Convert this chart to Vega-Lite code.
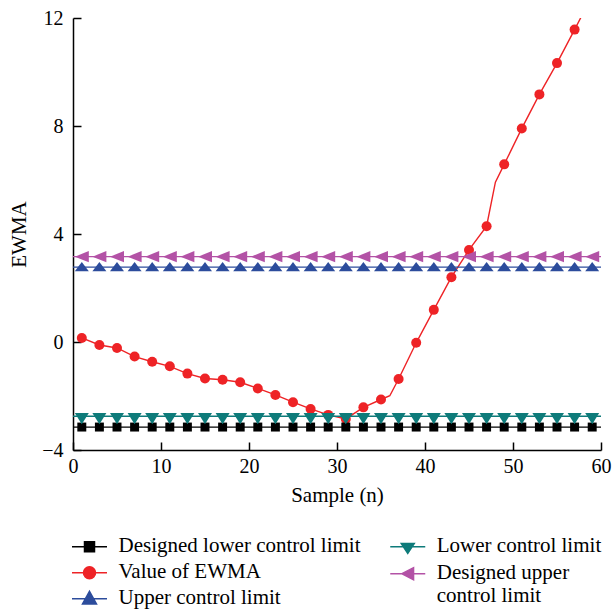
{
  "$schema": "https://vega.github.io/schema/vega-lite/v6.json",
  "width": 528,
  "height": 432,
  "autosize": "none",
  "padding": {"left": 73, "top": 18, "right": 12, "bottom": 159},
  "background": "white",
  "datasets": {
    "ewma": [
      {"n": 1, "ewma": 0.15}, {"n": 3, "ewma": -0.11}, {"n": 5, "ewma": -0.22}, {"n": 7, "ewma": -0.54},
      {"n": 9, "ewma": -0.73}, {"n": 11, "ewma": -0.90}, {"n": 13, "ewma": -1.17}, {"n": 15, "ewma": -1.35},
      {"n": 17, "ewma": -1.40}, {"n": 19, "ewma": -1.49}, {"n": 21, "ewma": -1.72}, {"n": 23, "ewma": -1.96},
      {"n": 25, "ewma": -2.23}, {"n": 27, "ewma": -2.48}, {"n": 29, "ewma": -2.70}, {"n": 31, "ewma": -2.85},
      {"n": 33, "ewma": -2.42}, {"n": 35, "ewma": -2.13}, {"n": 36, "ewma": -1.99}, {"n": 37, "ewma": -1.37},
      {"n": 39, "ewma": -0.03}, {"n": 41, "ewma": 1.19}, {"n": 43, "ewma": 2.40}, {"n": 45, "ewma": 3.41},
      {"n": 47, "ewma": 4.29}, {"n": 48, "ewma": 5.92}, {"n": 49, "ewma": 6.58}, {"n": 51, "ewma": 7.91},
      {"n": 53, "ewma": 9.17}, {"n": 55, "ewma": 10.33}, {"n": 57, "ewma": 11.57}, {"n": 58, "ewma": 12.2}
    ],
    "limits": [
      {"n": 1, "DLCL": -3.15, "LCL": -2.75, "UCL": 2.77, "DUCL": 3.16},
      {"n": 3, "DLCL": -3.15, "LCL": -2.75, "UCL": 2.77, "DUCL": 3.16},
      {"n": 5, "DLCL": -3.15, "LCL": -2.75, "UCL": 2.77, "DUCL": 3.16},
      {"n": 7, "DLCL": -3.15, "LCL": -2.75, "UCL": 2.77, "DUCL": 3.16},
      {"n": 9, "DLCL": -3.15, "LCL": -2.75, "UCL": 2.77, "DUCL": 3.16},
      {"n": 11, "DLCL": -3.15, "LCL": -2.75, "UCL": 2.77, "DUCL": 3.16},
      {"n": 13, "DLCL": -3.15, "LCL": -2.75, "UCL": 2.77, "DUCL": 3.16},
      {"n": 15, "DLCL": -3.15, "LCL": -2.75, "UCL": 2.77, "DUCL": 3.16},
      {"n": 17, "DLCL": -3.15, "LCL": -2.75, "UCL": 2.77, "DUCL": 3.16},
      {"n": 19, "DLCL": -3.15, "LCL": -2.75, "UCL": 2.77, "DUCL": 3.16},
      {"n": 21, "DLCL": -3.15, "LCL": -2.75, "UCL": 2.77, "DUCL": 3.16},
      {"n": 23, "DLCL": -3.15, "LCL": -2.75, "UCL": 2.77, "DUCL": 3.16},
      {"n": 25, "DLCL": -3.15, "LCL": -2.75, "UCL": 2.77, "DUCL": 3.16},
      {"n": 27, "DLCL": -3.15, "LCL": -2.75, "UCL": 2.77, "DUCL": 3.16},
      {"n": 29, "DLCL": -3.15, "LCL": -2.75, "UCL": 2.77, "DUCL": 3.16},
      {"n": 31, "DLCL": -3.15, "LCL": -2.75, "UCL": 2.77, "DUCL": 3.16},
      {"n": 33, "DLCL": -3.15, "LCL": -2.75, "UCL": 2.77, "DUCL": 3.16},
      {"n": 35, "DLCL": -3.15, "LCL": -2.75, "UCL": 2.77, "DUCL": 3.16},
      {"n": 37, "DLCL": -3.15, "LCL": -2.75, "UCL": 2.77, "DUCL": 3.16},
      {"n": 39, "DLCL": -3.15, "LCL": -2.75, "UCL": 2.77, "DUCL": 3.16},
      {"n": 41, "DLCL": -3.15, "LCL": -2.75, "UCL": 2.77, "DUCL": 3.16},
      {"n": 43, "DLCL": -3.15, "LCL": -2.75, "UCL": 2.77, "DUCL": 3.16},
      {"n": 45, "DLCL": -3.15, "LCL": -2.75, "UCL": 2.77, "DUCL": 3.16},
      {"n": 47, "DLCL": -3.15, "LCL": -2.75, "UCL": 2.77, "DUCL": 3.16},
      {"n": 49, "DLCL": -3.15, "LCL": -2.75, "UCL": 2.77, "DUCL": 3.16},
      {"n": 51, "DLCL": -3.15, "LCL": -2.75, "UCL": 2.77, "DUCL": 3.16},
      {"n": 53, "DLCL": -3.15, "LCL": -2.75, "UCL": 2.77, "DUCL": 3.16},
      {"n": 55, "DLCL": -3.15, "LCL": -2.75, "UCL": 2.77, "DUCL": 3.16},
      {"n": 57, "DLCL": -3.15, "LCL": -2.75, "UCL": 2.77, "DUCL": 3.16},
      {"n": 59, "DLCL": -3.15, "LCL": -2.75, "UCL": 2.77, "DUCL": 3.16}
    ],
    "levels": [
      {"key": "DLCL", "level": -3.15},
      {"key": "LCL", "level": -2.75},
      {"key": "UCL", "level": 2.77},
      {"key": "DUCL", "level": 3.16}
    ]
  },
  "layer": [
    {
      "data": {"name": "ewma"},
      "mark": {"type": "line", "color": "#ee2326", "strokeWidth": 1.4, "clip": true},
      "encoding": {
        "x": {"field": "n", "type": "quantitative", "scale": {"domain": [0, 60], "nice": false},
              "axis": {"values": [0, 10, 20, 30, 40, 50, 60], "title": "Sample (n)", "labelFlush": false}},
        "y": {"field": "ewma", "type": "quantitative", "scale": {"domain": [-4, 12], "nice": false},
              "axis": {"values": [-4, 0, 4, 8, 12], "title": "EWMA", "labelFlush": false}}
      }
    },
    {
      "data": {"name": "ewma"},
      "transform": [{"filter": "datum.n % 2 == 1"}],
      "mark": {"type": "point", "shape": "circle", "filled": true, "color": "#ee2326", "size": 100, "opacity": 1, "strokeWidth": 0, "clip": true},
      "encoding": {
        "x": {"field": "n", "type": "quantitative"},
        "y": {"field": "ewma", "type": "quantitative"}
      }
    },
    {
      "data": {"name": "levels"},
      "mark": {"type": "rule", "strokeWidth": 1.3},
      "encoding": {
        "x": {"datum": 0, "type": "quantitative"},
        "x2": {"datum": 60},
        "y": {"field": "level", "type": "quantitative"},
        "color": {"field": "key", "type": "nominal",
                  "scale": {"domain": ["DLCL", "LCL", "UCL", "DUCL"], "range": ["#000000", "#0e7b7a", "#2c4c9c", "#b352a6"]},
                  "legend": null}
      }
    },
    {
      "data": {"name": "limits"},
      "transform": [{"fold": ["DLCL", "LCL", "UCL", "DUCL"], "as": ["key", "level"]}],
      "mark": {"type": "point", "filled": true, "opacity": 1, "strokeWidth": 0, "size": 196},
      "encoding": {
        "x": {"field": "n", "type": "quantitative"},
        "y": {"field": "level", "type": "quantitative"},
        "color": {"field": "key", "type": "nominal", "legend": null},
        "shape": {"field": "key", "type": "nominal",
                  "scale": {"domain": ["DLCL", "LCL", "UCL", "DUCL"],
                            "range": ["M-0.64,-0.64H0.64V0.64H-0.64Z", "M-1,-0.45H1L0,1.15Z", "M0,-0.76L1,0.57H-1Z", "M-1,0L1,-0.8V0.8Z"]},
                  "legend": null}
      }
    },
    {
      "data": {"name": "levels"},
      "transform": [{"filter": "false"}],
      "mark": {"type": "point", "filled": true, "opacity": 1},
      "encoding": {
        "fill": {"field": "key", "type": "nominal",
                 "scale": {"domain": ["Designed lower control limit", "Value of EWMA", "Upper control limit"], "range": ["#000000", "#ee2326", "#2c4c9c"]},
                 "legend": {"orient": "none", "legendX": 5.5, "legendY": 523}},
        "stroke": {"field": "key", "type": "nominal",
                   "scale": {"domain": ["Designed lower control limit", "Value of EWMA", "Upper control limit"], "range": ["#000000", "#ee2326", "#2c4c9c"]},
                   "legend": {"orient": "none", "legendX": 5.5, "legendY": 523}},
        "shape": {"field": "key", "type": "nominal",
                  "scale": {"domain": ["Designed lower control limit", "Value of EWMA", "Upper control limit"],
                            "range": ["M-1.75,-0.53H1.75M-0.5,-1.03H0.5V-0.03H-0.5Z",
                                      "M-1.75,-0.53H1.75M-0.6,-0.53A0.6,0.6,0,1,0,0.6,-0.53A0.6,0.6,0,1,0,-0.6,-0.53Z",
                                      "M-1.75,-0.53H1.75M0,-1.26L0.7,0L-0.7,0Z"]},
                  "legend": {"orient": "none", "legendX": 5.5, "legendY": 523}}
      }
    },
    {
      "data": {"name": "levels"},
      "transform": [{"filter": "false"}],
      "mark": {"type": "point", "filled": true, "opacity": 1},
      "encoding": {
        "fill": {"field": "key", "type": "nominal",
                 "scale": {"domain": ["Lower control limit", "Designed upper control limit"], "range": ["#0e7b7a", "#b352a6"]},
                 "legend": {"orient": "none", "legendX": 323.75, "legendY": 523, "labelExpr": "datum.label == 'Designed upper control limit' ? ['Designed upper', 'control limit'] : datum.label"}},
        "stroke": {"field": "key", "type": "nominal",
                   "scale": {"domain": ["Lower control limit", "Designed upper control limit"], "range": ["#0e7b7a", "#b352a6"]},
                   "legend": {"orient": "none", "legendX": 323.75, "legendY": 523, "labelExpr": "datum.label == 'Designed upper control limit' ? ['Designed upper', 'control limit'] : datum.label"}},
        "shape": {"field": "key", "type": "nominal",
                  "scale": {"domain": ["Lower control limit", "Designed upper control limit"],
                            "range": ["M-1.75,-0.53H1.75M-0.65,-0.86L0.65,-0.86L0,0.14Z",
                                      "M-1.75,-0.53H1.75M-0.58,-0.53L0.58,-1.13L0.58,0.07Z"]},
                  "legend": {"orient": "none", "legendX": 323.75, "legendY": 523, "labelExpr": "datum.label == 'Designed upper control limit' ? ['Designed upper', 'control limit'] : datum.label"}}
      }
    }
  ],
  "resolve": {"scale": {"fill": "independent", "stroke": "independent", "shape": "independent"}},
  "config": {
    "view": {"stroke": null},
    "axis": {
      "domainColor": "black", "domainWidth": 1.5, "tickColor": "black", "tickWidth": 1.5, "tickSize": -8,
      "grid": false, "labelFont": "Liberation Serif, DejaVu Serif, serif", "labelFontSize": 20, "labelColor": "black",
      "titleFont": "Liberation Serif, DejaVu Serif, serif", "titleFontSize": 21, "titleFontWeight": "normal", "titleColor": "black"
    },
    "axisX": {"labelPadding": 14, "titlePadding": 8},
    "axisY": {"labelPadding": 18, "titlePadding": 12},
    "legend": {
      "direction": "vertical", "title": null, "symbolSize": 400, "symbolStrokeWidth": 1.5,
      "labelFont": "Liberation Serif, DejaVu Serif, serif", "labelFontSize": 21, "labelColor": "black", "labelBaseline": "alphabetic",
      "labelOffset": 18, "labelLimit": 400, "rowPadding": 5, "padding": 0
    }
  }
}
